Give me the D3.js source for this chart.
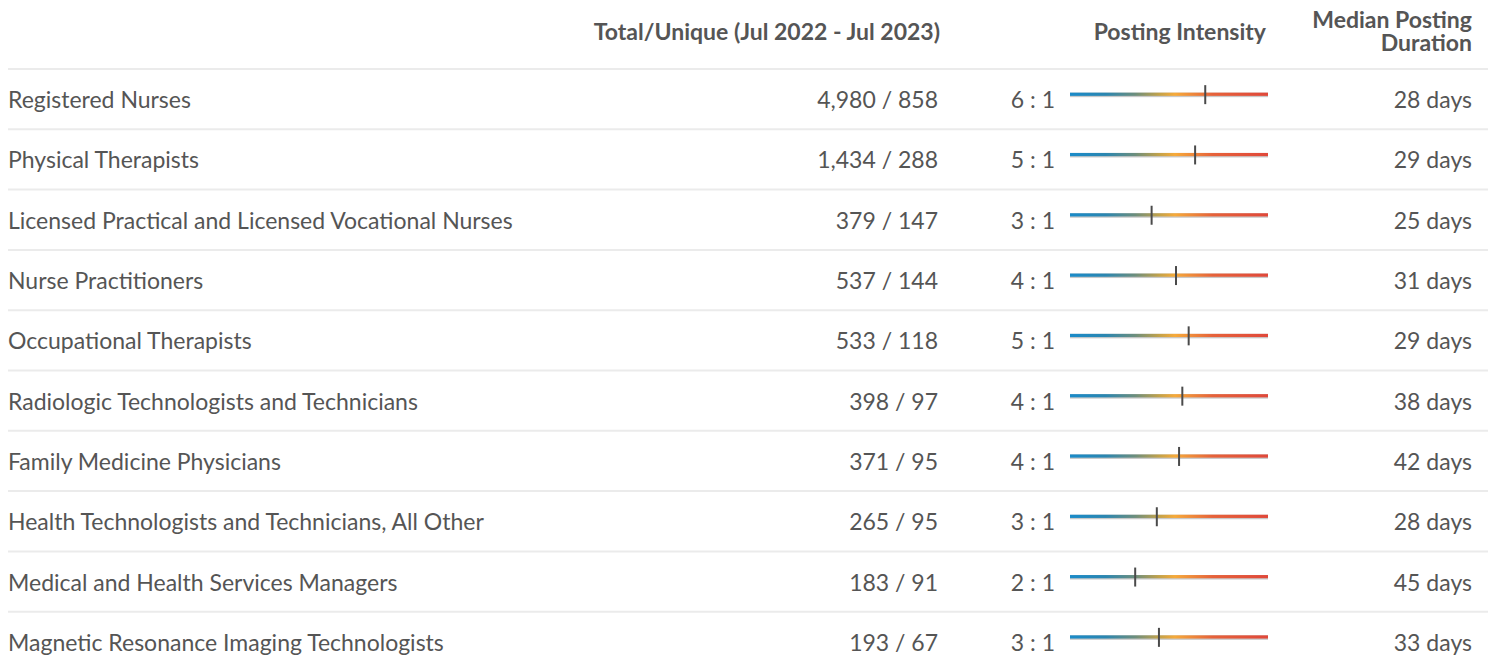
<!DOCTYPE html>
<html>
<head>
<meta charset="utf-8">
<script src="https://cdn.jsdelivr.net/npm/d3@7"></script>
<style>
  body { margin: 0; background: #fff; }
  text { font-family: Lato, "Open Sans", sans-serif; fill: #555; }
</style>
</head>
<body>
<div id="chart"></div>
<script>
var occupations = [
  "Registered Nurses",
  "Physical Therapists",
  "Licensed Practical and Licensed Vocational Nurses",
  "Nurse Practitioners",
  "Occupational Therapists",
  "Radiologic Technologists and Technicians",
  "Family Medicine Physicians",
  "Health Technologists and Technicians, All Other",
  "Medical and Health Services Managers",
  "Magnetic Resonance Imaging Technologists"
];
var totalPostings = [4980, 1434, 379, 537, 533, 398, 371, 265, 183, 193];
var uniquePostings = [858, 288, 147, 144, 118, 97, 95, 95, 91, 67];
var medianDays = [28, 29, 25, 31, 29, 38, 42, 28, 45, 33];

var svgWidth = 1497;
var svgHeight = 668;

var svg = d3.select("#chart")
  .append("svg")
  .attr("width", svgWidth)
  .attr("height", svgHeight);

var rows = occupations.map(function(name, i) {
  return {
    name: name,
    total: totalPostings[i],
    unique: uniquePostings[i],
    ratio: totalPostings[i] / uniquePostings[i],
    days: medianDays[i]
  };
});

// row positions
var y = d3.scaleBand()
  .domain(d3.range(rows.length))
  .range([69, 69 + 60.3 * rows.length]);

// intensity bar scale
var xIntensity = d3.scaleLog()
  .domain([0.75, 15])
  .range([1070, 1268])
  .clamp(true);

var fmt = d3.format(",");

// gradient
var defs = svg.append("defs");
var grad = defs.append("linearGradient")
  .attr("id", "intensityGrad")
  .attr("gradientUnits", "userSpaceOnUse")
  .attr("x1", 1070).attr("x2", 1268)
  .attr("y1", 0).attr("y2", 0);
[
  [0, "#1a8bc9"],
  [0.18, "#2b86b0"],
  [0.33, "#6d8e7c"],
  [0.45, "#c2a24a"],
  [0.53, "#f6aa3a"],
  [0.72, "#e6623a"],
  [1, "#e0483a"]
].forEach(function(s) {
  grad.append("stop").attr("offset", s[0]).attr("stop-color", s[1]);
});

// header
var header = svg.append("g").attr("font-weight", "bold").attr("font-size", "23px");
header.append("text")
  .attr("x", 940).attr("y", 40)
  .attr("text-anchor", "end")
  .text("Total/Unique (Jul 2022 - Jul 2023)");
header.append("text")
  .attr("x", 1266).attr("y", 40)
  .attr("text-anchor", "end")
  .text("Posting Intensity");
// two-line header kept in one text element
var medianHead = header.append("text")
  .attr("text-anchor", "end");
medianHead.append("tspan")
  .attr("x", 1472).attr("y", 28)
  .text("Median Posting");
medianHead.append("tspan")
  .attr("x", 1472).attr("y", 51)
  .text("Duration");

// separators
svg.selectAll("line.sep")
  .data(d3.range(rows.length + 1))
  .enter()
  .append("line")
  .attr("class", "sep")
  .attr("x1", 8).attr("x2", 1488)
  .attr("y1", d => y(0) + d * y.step())
  .attr("y2", d => y(0) + d * y.step())
  .attr("stroke", "#ebebeb")
  .attr("stroke-width", 2);

var row = svg.selectAll("g.row")
  .data(rows)
  .enter()
  .append("g")
  .attr("class", "row")
  .attr("transform", (d, i) => `translate(0, ${y(i) + y.bandwidth() / 2})`)
  .attr("font-size", "23px");

row.append("text")
  .attr("x", 8).attr("dy", "0.39em")
  .text(d => d.name);

row.append("text")
  .attr("x", 938).attr("dy", "0.39em")
  .attr("text-anchor", "end")
  .text(d => fmt(d.total) + " / " + fmt(d.unique));

row.append("text")
  .attr("x", 1055).attr("dy", "0.39em")
  .attr("text-anchor", "end")
  .text(d => Math.round(d.ratio) + " : 1");

// gray under line then gradient
row.append("rect")
  .attr("x", xIntensity.range()[0])
  .attr("y", -6.5)
  .attr("width", xIntensity.range()[1] - xIntensity.range()[0])
  .attr("height", 4.5)
  .attr("fill", "#c9c9c9");
row.append("rect")
  .attr("x", xIntensity.range()[0])
  .attr("y", -6.5)
  .attr("width", xIntensity.range()[1] - xIntensity.range()[0])
  .attr("height", 3.2)
  .attr("fill", "url(#intensityGrad)");

row.append("line")
  .attr("x1", d => xIntensity(d.ratio))
  .attr("x2", d => xIntensity(d.ratio))
  .attr("y1", -14).attr("y2", 5)
  .attr("stroke", "#4a4a4a")
  .attr("stroke-width", 2);

row.append("text")
  .attr("x", 1472).attr("dy", "0.39em")
  .attr("text-anchor", "end")
  .text(d => d.days + " days");
</script>
</body>
</html>
